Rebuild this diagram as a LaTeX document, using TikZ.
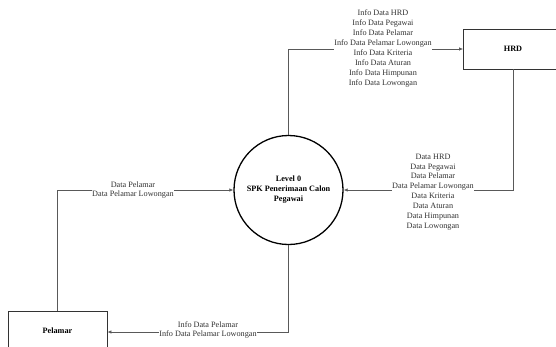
\documentclass[tikz,border=0pt]{standalone}
\usepackage{fontspec}
\setmainfont{Liberation Serif}
\usetikzlibrary{arrows.meta}
\begin{document}
\begin{tikzpicture}[x=1pt,y=-1pt,
  entity/.style={draw=black!80,line width=0.8pt,minimum width=99pt,minimum height=40pt,font=\fontsize{8.2}{10}\selectfont\bfseries},
  process/.style={circle,draw=black,line width=1.3pt,minimum size=109pt,align=center,inner sep=0pt,font=\fontsize{8.2}{10}\selectfont\bfseries},
  flow/.style={draw=black!65,line width=0.7pt,-{Latex[length=4pt,width=3.5pt]}},
  flowlabel/.style={fill=white,inner sep=0pt,align=center,text=black!80,font=\fontsize{8.2}{9.9}\selectfont}]
\useasboundingbox (0,0) rectangle (556,346);
\clip (0,0) rectangle (556,346);

% external entities and the process
\node[process] (spk) at (288.5,190) {Level 0\\SPK Penerimaan Calon\\Pegawai};
\node[entity] (hrd) at (513,49) {HRD};
\node[entity] (pelamar) at (57.5,331) {Pelamar};

% bend points of the flows
\coordinate (c1) at (288.5,49);
\coordinate (c2) at (513,190);
\coordinate (c3) at (288.5,332);
\coordinate (c4) at (57.5,190);

% flows
\draw[flow] (spk.north) -- (c1) -- (hrd.west |- c1);
\draw[flow] (hrd.south -| c2) -- (c2) -- (spk.east |- c2);
\draw[flow] (spk.south) -- (c3) -- (pelamar.east |- c3);
\draw[flow] (pelamar.north -| c4) -- (c4) -- (spk.west);

% flow labels
\node[flowlabel] (l1) at (383,48.5) {Info Data HRD\\Info Data Pegawai\\Info Data Pelamar\\Info Data Pelamar Lowongan\\Info Data Kriteria\\Info Data Aturan\\Info Data Himpunan\\Info Data Lowongan};
\node[flowlabel] (l2) at (433,192) {Data HRD\\Data Pegawai\\Data Pelamar\\Data Pelamar Lowongan\\Data Kriteria\\Data Aturan\\Data Himpunan\\Data Lowongan};
\node[flowlabel] (l3) at (133,190) {Data Pelamar\\Data Pelamar Lowongan};
\node[flowlabel] (l4) at (208,330) {Info Data Pelamar\\Info Data Pelamar Lowongan};
\end{tikzpicture}
\end{document}
